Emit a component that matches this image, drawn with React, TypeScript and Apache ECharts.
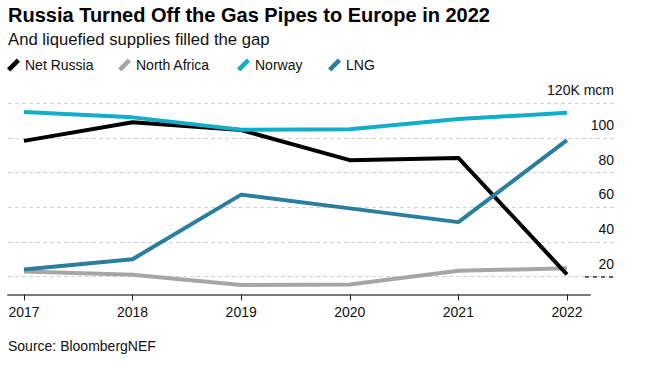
import React, { useEffect, useRef } from "react";
import * as echarts from "echarts";

const years = [2017, 2018, 2019, 2020, 2021, 2022];
const netRussia = [98.3, 109, 104.5, 87.2, 88.5, 21.5];
const northAfrica = [23.2, 21.3, 15.5, 15.7, 23.6, 25.1];
const norway = [114.9, 111.8, 104.7, 105, 110.8, 114.5];
const lng = [24.4, 30.3, 67.4, 59.5, 51.6, 98.7];
const seriesNames = ["Net Russia", "North Africa", "Norway", "LNG"];
const yTicks = [20, 40, 60, 80, 100, 120];

const FONT = "'Liberation Sans', Arial, Helvetica, sans-serif";
const legendLefts = [7, 118, 237, 328];

export default function App() {
  const ref = useRef<HTMLDivElement>(null);
  useEffect(() => {
    if (!ref.current) return;
    const chart = echarts.init(ref.current, null, { renderer: "svg" });
    const pairs = (vals: number[]) => years.map((y, i) => [y, vals[i]]);
    const lineSeries = (name: string, vals: number[], color: string, z: number) => ({
      name,
      type: "line",
      xAxisIndex: 0,
      yAxisIndex: 0,
      data: pairs(vals),
      showSymbol: false,
      symbol: "none",
      z,
      color,
      lineStyle: { color, width: 4 },
    });
    const gridTop = 103.1;
    chart.setOption({
      animation: false,
      textStyle: { fontFamily: FONT },
      title: [
        {
          text: "Russia Turned Off the Gas Pipes to Europe in 2022",
          left: 8,
          top: 5,
          padding: 0,
          textStyle: { fontSize: 20, fontWeight: "bold", color: "#000", fontFamily: FONT },
        },
        {
          text: "And liquefied supplies filled the gap",
          left: 8,
          top: 31,
          padding: 0,
          textStyle: { fontSize: 16.7, fontWeight: "normal", color: "#111", fontFamily: FONT },
        },
        {
          text: "Source: BloombergNEF",
          left: 8,
          top: 339,
          padding: 0,
          textStyle: { fontSize: 14, fontWeight: "normal", color: "#111", fontFamily: FONT },
        },
      ],
      legend: seriesNames.map((name, i) => ({
        data: [name],
        left: legendLefts[i],
        top: 58,
        padding: 0,
        itemWidth: 15,
        itemHeight: 13,
        itemGap: 0,
        icon: "path://M0,10 L9,1 L12,4 L3,13 Z",
        textStyle: { fontSize: 14, color: "#111", fontFamily: FONT, padding: [0, 0, 0, -1] },
      })),
      grid: [
        { left: 8, right: 56, top: gridTop, height: 191.4 },
        { left: 8, right: 31, top: gridTop, height: 208.2 },
        { left: 585, right: 31, top: gridTop, height: 208.2 },
      ],
      xAxis: [
        {
          type: "value",
          gridIndex: 0,
          min: 2016.853,
          max: 2022.212,
          splitLine: { show: false },
          axisLine: { show: true, lineStyle: { color: "#7a7a7a", width: 2 } },
          axisTick: {
            show: true,
            customValues: years,
            length: 6,
            lineStyle: { color: "#222", width: 1 },
          },
          axisLabel: {
            customValues: years,
            fontSize: 14,
            color: "#111",
            margin: 10,
            fontFamily: FONT,
            formatter: (v: number) => String(Math.round(v)),
          },
        },
        { type: "value", gridIndex: 1, show: false, min: 0, max: 1 },
        { type: "value", gridIndex: 2, show: false, min: 0, max: 1 },
      ],
      yAxis: [
        { type: "value", gridIndex: 0, min: 10, max: 120, show: false },
        {
          type: "value",
          gridIndex: 1,
          position: "right",
          min: 0,
          max: 120,
          interval: 20,
          axisLine: { show: false },
          axisTick: { show: false },
          splitLine: {
            show: true,
            showMinLine: false,
            lineStyle: { color: "#d2d2d2", width: 1, type: [4, 3] },
          },
          axisLabel: {
            inside: true,
            margin: 1,
            fontSize: 14,
            color: "#111",
            fontFamily: FONT,
            verticalAlign: "bottom",
            align: "right",
            lineHeight: 16,
            padding: [0, 0, 5, 0],
            formatter: (v: number) =>
              yTicks.includes(v) ? (v === 120 ? "120K mcm" : String(v)) : "",
          },
        },
        {
          type: "value",
          gridIndex: 2,
          position: "right",
          min: 0,
          max: 120,
          interval: 20,
          axisLine: { show: false },
          axisTick: { show: false },
          axisLabel: { show: false },
          splitLine: {
            show: true,
            lineStyle: {
              color: [
                "rgba(0,0,0,0)",
                "#666",
                "rgba(0,0,0,0)",
                "rgba(0,0,0,0)",
                "rgba(0,0,0,0)",
                "rgba(0,0,0,0)",
                "rgba(0,0,0,0)",
              ],
              width: 2,
              type: [4, 4],
            },
          },
        },
      ],
      series: [
        lineSeries("North Africa", northAfrica, "#a6a6a6", 1),
        lineSeries("Net Russia", netRussia, "#000000", 2),
        lineSeries("LNG", lng, "#2a7e9e", 3),
        lineSeries("Norway", norway, "#12adc8", 4),
      ],
    });
    return () => chart.dispose();
  }, []);
  return <div ref={ref} style={{ width: 646, height: 365, position: "absolute", left: 0, top: 0 }} />;
}
